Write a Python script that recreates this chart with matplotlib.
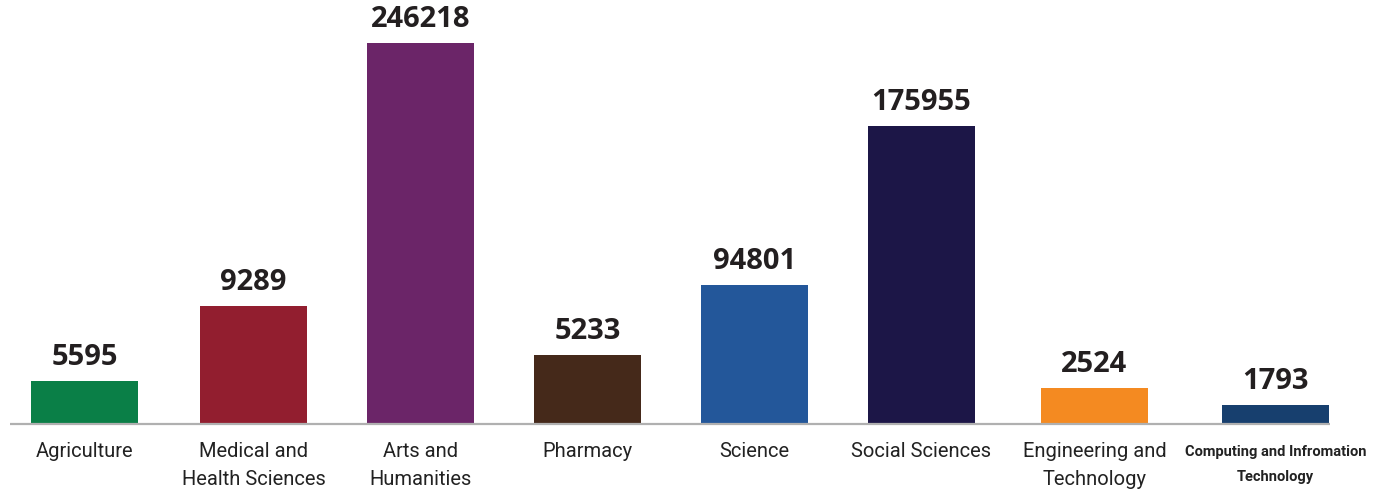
import matplotlib
matplotlib.use("Agg")
import matplotlib.pyplot as plt

categories = ["Agriculture", "Medical and\nHealth Sciences", "Arts and\nHumanities", "Pharmacy",
              "Science", "Social Sciences", "Engineering and\nTechnology",
              "Computing and Infromation\nTechnology"]
values = [5595, 9289, 246218, 5233, 94801, 175955, 2524, 1793]
# displayed bar heights (the infographic is not drawn to scale)
bar_heights = [43, 118, 381, 69, 139, 298, 36, 19]
colors = ["#0a7f47", "#921e2f", "#6b2568", "#45291a", "#23579a", "#1c1647", "#f48a21", "#173f6e"]

positions = [0, 1.012, 2.012, 3.012, 4.012, 5.012, 6.048, 7.132]

fig = plt.figure(figsize=(13.73, 4.93), dpi=100)
ax = fig.add_axes([0, 0, 1, 1])
ax.set_xlim(-0.506, 7.716)
ax.set_ylim(-69, 424)
ax.axis("off")

ax.bar(positions, bar_heights, width=0.64, color=colors, zorder=2)
ax.plot([-0.446, 7.458], [0, 0], color="#b0b0b0", lw=1.6, zorder=3, solid_capstyle="butt")

for x, h, v in zip(positions, bar_heights, values):
    ax.annotate(f"{v}", (x, h), xytext=(0, 9), textcoords="offset pixels",
                ha="center", va="bottom", fontsize=21, fontweight="bold",
                family=["Open Sans", "DejaVu Sans"], color="#231f20")

for i, (x, c) in enumerate(zip(positions, categories)):
    if i == len(categories) - 1:
        ax.annotate(c, (x, 0), xytext=(0, -21), textcoords="offset pixels",
                    ha="center", va="top", fontsize=10.5, fontweight="bold",
                    family=["Roboto", "DejaVu Sans"], color="#222222",
                    linespacing=2.0)
    else:
        ax.annotate(c, (x, 0), xytext=(0, -18), textcoords="offset pixels",
                    ha="center", va="top", fontsize=14.5,
                    family=["Roboto", "DejaVu Sans"], color="#222222",
                    linespacing=1.6)

fig.savefig("out.png", dpi=100)
